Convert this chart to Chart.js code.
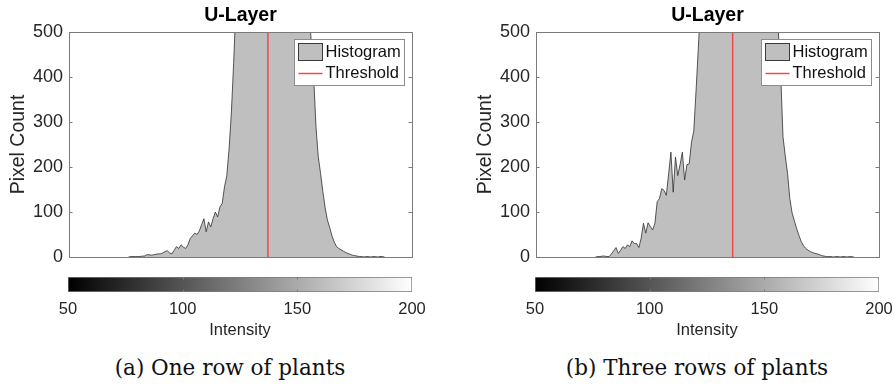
<!DOCTYPE html>
<html>
<head>
<meta charset="utf-8">
<script src="https://cdn.jsdelivr.net/npm/chart.js@4.4.1/dist/chart.umd.min.js"></script>
<style>
  body { margin: 0; background: #fff; width: 894px; height: 385px; position: relative; overflow: hidden; }
  canvas { position: absolute; }
  .caption { position: absolute; text-align: center; font-family: "DejaVu Serif", serif; font-size: 21.5px; line-height: 24px; color: #111; white-space: nowrap; }
</style>
</head>
<body>
<canvas id="histOne" width="440" height="262" style="left:0;top:0"></canvas>
<canvas id="barOne" width="440" height="80" style="left:0;top:262px"></canvas>
<div class="caption" style="left:0;width:460px;top:356px">(a) One row of plants</div>

<canvas id="histThree" width="440" height="262" style="left:467px;top:0"></canvas>
<canvas id="barThree" width="440" height="80" style="left:467px;top:262px"></canvas>
<div class="caption" style="left:477px;width:440px;top:356px">(b) Three rows of plants</div>

<script>
// intensity of the first bin, one bin per grey level
const binStart = 76;

// pixel counts per grey level, one row of plants (76..188)
const countsOneRow = [
  0, 1, 1, 1, 1, 1, 2, 2, 5, 5,            // 76-85
  4, 5, 6, 7, 7, 9, 12, 14, 9, 7,          // 86-95
  15, 23, 19, 27, 22, 19, 27, 41, 47, 53,  // 96-105
  50, 58, 72, 85, 56, 78, 67, 85, 100, 89, // 106-115
  111, 119, 156, 180, 240, 320, 430, 560, 700, 900,        // 116-125
  1150, 1400, 1700, 2000, 2300, 2600, 2850, 3050, 3200, 3300, // 126-135
  3350, 3300, 3200, 3050, 2850, 2600, 2350, 2100, 1850, 1600, // 136-145
  1400, 1200, 1050, 920, 820, 740, 680, 630, 600, 560,     // 146-155
  470, 400, 290, 223, 186, 146, 110, 82, 66, 47,           // 156-165
  33, 23, 19, 16, 13, 10, 8, 6, 4, 3,      // 166-175
  2, 1, 1, 0, 1, 1, 0, 1, 1, 0,            // 176-185
  1, 1, 0                                  // 186-188
];

// pixel counts per grey level, three rows of plants (76..189)
const countsThreeRows = [
  0, 1, 1, 2, 2, 1, 1, 7, 14, 21,          // 76-85
  8, 15, 23, 19, 27, 23, 36, 30, 30, 21,   // 86-95
  42, 75, 53, 76, 68, 60, 75, 123, 130, 152, // 96-105
  148, 137, 185, 233, 144, 222, 181, 205, 233, 171, // 106-115
  205, 207, 255, 280, 370, 465, 565, 700, 880, 1100, // 116-125
  1350, 1650, 1950, 2250, 2550, 2800, 3000, 3150, 3250, 3300, // 126-135
  3280, 3200, 3050, 2850, 2650, 2400, 2150, 1900, 1650, 1450, // 136-145
  1250, 1100, 960, 850, 770, 710, 670, 640, 615, 590,      // 146-155
  500, 410, 268, 225, 186, 130, 98, 80, 63, 48,            // 156-165
  34, 25, 19, 15, 12, 10, 8, 7, 5, 3,      // 166-175
  2, 1, 1, 1, 0, 1, 1, 0, 1, 1,            // 176-185
  0, 1, 1, 0                               // 186-189
];

const thresholdOneRow = 137;
const thresholdThreeRows = 136;

const intensityRange = [50, 200];
const intensityTicks = [50, 100, 150, 200];
const countTicks = [0, 100, 200, 300, 400, 500];

const sans = "'Liberation Sans', Arial, sans-serif";
const textColor = '#262626';
const boxColor = '#7a7a7a';

// box round the axes with inward tick marks on both sides
const axesBox = {
  id: 'axesBox',
  afterDatasetsDraw(chart) {
    const { ctx, chartArea: a } = chart;
    const y = chart.scales.y;
    ctx.save();
    ctx.strokeStyle = boxColor;
    ctx.lineWidth = 1;
    ctx.strokeRect(Math.round(a.left) + 0.5, Math.round(a.top) + 0.5,
      Math.round(a.right - a.left), Math.round(a.bottom - a.top));
    ctx.beginPath();
    countTicks.forEach(v => {
      const py = Math.round(y.getPixelForValue(v)) + 0.5;
      ctx.moveTo(a.left, py); ctx.lineTo(a.left + 3.5, py);
      ctx.moveTo(a.right, py); ctx.lineTo(a.right - 3.5, py);
    });
    ctx.stroke();
    ctx.restore();
  }
};

// legend box in the upper right corner of the plot
const cornerLegend = {
  id: 'cornerLegend',
  afterDraw(chart) {
    const { ctx, chartArea: a } = chart;
    const [hist, thr] = chart.data.datasets;
    const w = 110, h = 46;
    const x = Math.round(a.right - 8 - w) + 0.5, y = Math.round(a.top + 7) + 0.5;
    ctx.save();
    ctx.fillStyle = '#fff';
    ctx.fillRect(x, y, w, h);
    ctx.strokeStyle = '#8c8c8c';
    ctx.lineWidth = 1;
    ctx.strokeRect(x, y, w, h);

    ctx.fillStyle = hist.backgroundColor;
    ctx.fillRect(x + 4, y + 4, 24, 17);
    ctx.strokeStyle = '#3a3a3a';
    ctx.strokeRect(x + 4, y + 4, 24, 17);

    ctx.strokeStyle = thr.borderColor;
    ctx.lineWidth = 1.5;
    ctx.beginPath();
    ctx.moveTo(x + 4, y + 34); ctx.lineTo(x + 28, y + 34);
    ctx.stroke();

    ctx.fillStyle = '#111';
    ctx.font = '16.5px ' + sans;
    ctx.textBaseline = 'middle';
    ctx.textAlign = 'left';
    ctx.fillText(hist.label, x + 31, y + 13);
    ctx.fillText(thr.label, x + 31, y + 34);
    ctx.restore();
  }
};

// inward tick marks on the colour bar
const barTicks = {
  id: 'barTicks',
  afterDatasetsDraw(chart) {
    const { ctx, chartArea: a } = chart;
    const x = chart.scales.x;
    ctx.save();
    ctx.strokeStyle = boxColor;
    ctx.lineWidth = 1;
    ctx.beginPath();
    intensityTicks.slice(1, -1).forEach(v => {
      const px = Math.round(x.getPixelForValue(v)) + 0.5;
      ctx.moveTo(px, a.bottom); ctx.lineTo(px, a.bottom - 2.5);
      ctx.moveTo(px, a.top); ctx.lineTo(px, a.top + 2.5);
    });
    ctx.stroke();
    ctx.restore();
  }
};

function makeHistogram(id, counts, threshold) {
  const histPoints = counts.map((c, i) => ({ x: binStart + i, y: c }));
  new Chart(document.getElementById(id), {
    type: 'line',
    data: {
      datasets: [
        {
          label: 'Histogram',
          data: histPoints,
          fill: 'origin',
          backgroundColor: '#bfbfbf',
          borderColor: '#2e2e2e',
          borderWidth: 0.8,
          pointRadius: 0,
          tension: 0,
          order: 2
        },
        {
          label: 'Threshold',
          data: [{ x: threshold, y: 0 }, { x: threshold, y: 500 }],
          fill: false,
          borderColor: '#f0484a',
          borderWidth: 1.5,
          pointRadius: 0,
          order: 1
        }
      ]
    },
    options: {
      responsive: false,
      animation: false,
      events: [],
      layout: { padding: { left: 0, right: 28, top: 0, bottom: 5 } },
      plugins: {
        legend: { display: false },
        tooltip: { enabled: false },
        title: {
          display: true,
          text: 'U-Layer',
          fullSize: false,
          color: '#000',
          font: { family: sans, size: 19.5, weight: 'bold' },
          padding: { top: 4, bottom: 4.6 }
        }
      },
      scales: {
        x: { type: 'linear', min: intensityRange[0], max: intensityRange[1], display: false },
        y: {
          min: 0,
          max: 500,
          afterFit: s => { s.width = 69; s.paddingTop = 0; s.paddingBottom = 0; },
          afterBuildTicks: s => { s.ticks = countTicks.map(v => ({ value: v })); },
          grid: { display: false, drawTicks: false },
          border: { display: false },
          ticks: { color: textColor, font: { family: sans, size: 18 }, padding: 6 },
          title: {
            display: true,
            text: 'Pixel Count',
            color: textColor,
            font: { family: sans, size: 19.5 },
            padding: { top: 6.5, bottom: 0 }
          }
        }
      }
    },
    plugins: [axesBox, cornerLegend]
  });
}

function makeColorBar(id) {
  new Chart(document.getElementById(id), {
    type: 'bar',
    data: {
      labels: ['Intensity'],
      datasets: [{
        data: [intensityRange],
        backgroundColor: ctx => {
          const chart = ctx.chart;
          if (!chart.chartArea) return '#888';
          const x = chart.scales.x;
          const g = chart.ctx.createLinearGradient(
            x.getPixelForValue(intensityRange[0]), 0, x.getPixelForValue(intensityRange[1]), 0);
          g.addColorStop(0, '#000');
          g.addColorStop(1, '#fff');
          return g;
        },
        borderColor: boxColor,
        borderWidth: 1,
        borderSkipped: false,
        barPercentage: 1,
        categoryPercentage: 1
      }]
    },
    options: {
      indexAxis: 'y',
      responsive: false,
      animation: false,
      events: [],
      layout: { padding: { left: 68, right: 28, top: 15, bottom: 0 } },
      plugins: { legend: { display: false }, tooltip: { enabled: false } },
      scales: {
        y: { display: false },
        x: {
          type: 'linear',
          min: intensityRange[0],
          max: intensityRange[1],
          afterFit: s => { s.height = 50; },
          afterBuildTicks: s => { s.ticks = intensityTicks.map(v => ({ value: v })); },
          grid: { display: false, drawTicks: false },
          border: { display: false },
          ticks: { color: textColor, font: { family: sans, size: 16.5 }, padding: 7.4, maxRotation: 0 },
          title: {
            display: true,
            text: 'Intensity',
            color: textColor,
            font: { family: sans, size: 16.5 },
            padding: { top: 0, bottom: 1.5 }
          }
        }
      }
    },
    plugins: [barTicks]
  });
}

makeHistogram('histOne', countsOneRow, thresholdOneRow);
makeColorBar('barOne');
makeHistogram('histThree', countsThreeRows, thresholdThreeRows);
makeColorBar('barThree');
</script>
</body>
</html>
